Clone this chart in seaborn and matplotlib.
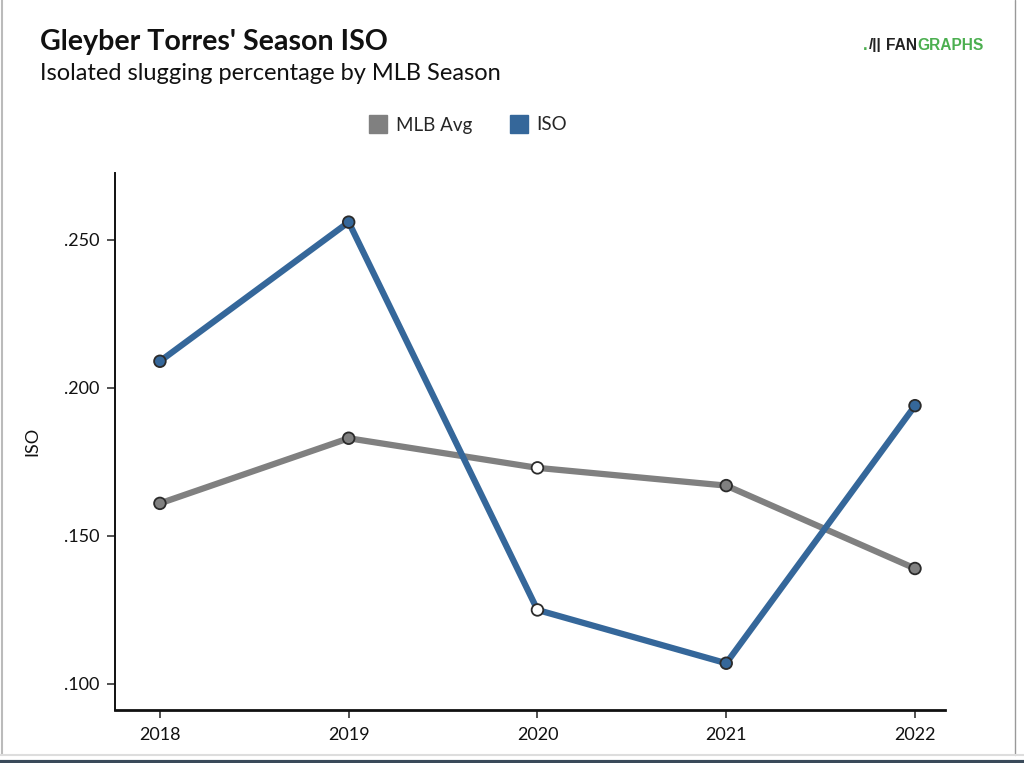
import matplotlib
matplotlib.use("Agg")
import matplotlib.pyplot as plt
from matplotlib.lines import Line2D
import seaborn as sns
import pandas as pd

seasons = [2018, 2019, 2020, 2021, 2022]
iso = [0.209, 0.256, 0.125, 0.107, 0.194]
mlb_avg = [0.161, 0.183, 0.173, 0.167, 0.139]
highlight_season = 2020
y_ticks = [0.100, 0.150, 0.200, 0.250]
y_tick_labels = [".100", ".150", ".200", ".250"]

GRAY = "#808080"
BLUE = "#35679a"
EDGE = "#2b2b2b"

sns.set_theme(style="white")
plt.rcParams["font.family"] = ["Lato", "DejaVu Sans"]

df = pd.concat([
    pd.DataFrame({"Season": seasons, "value": mlb_avg, "series": "MLB Avg"}),
    pd.DataFrame({"Season": seasons, "value": iso, "series": "ISO"}),
], ignore_index=True)
df["face"] = df["series"].where(df["Season"] != highlight_season, "hl")

fig = plt.figure(figsize=(10.24, 7.63), dpi=100)
fig.patch.set_facecolor("white")
ax = fig.add_axes([115/1024, 1-710/763, (945-115)/1024, (710-173)/763])

sns.lineplot(data=df, x="Season", y="value", hue="series",
             palette={"MLB Avg": GRAY, "ISO": BLUE}, linewidth=4.5,
             ax=ax, legend=False, zorder=2)
sns.scatterplot(data=df, x="Season", y="value", hue="face",
                palette={"MLB Avg": GRAY, "ISO": BLUE, "hl": "white"},
                s=70, edgecolor=EDGE, linewidth=1.3, ax=ax, legend=False, zorder=3)

ax.set_xlim(2017.762, 2022.159)
ax.set_ylim(0.0912, 0.2726)
ax.set_xticks(seasons)
ax.set_xticklabels([str(s) for s in seasons])
ax.set_yticks(y_ticks)
ax.set_yticklabels(y_tick_labels)
ax.set_xlabel("")
ax.set_ylabel("ISO", fontsize=13, color="#111111", labelpad=17)
ax.tick_params(axis="both", direction="out", length=6, width=1.1, color="#222222",
               labelsize=13, labelcolor="#111111", left=True, bottom=True)
ax.tick_params(axis="x", pad=6)
ax.tick_params(axis="y", pad=5)
for side in ["top", "right"]:
    ax.spines[side].set_visible(False)
ax.spines["left"].set_color("#111111")
ax.spines["left"].set_linewidth(1.4)
ax.spines["bottom"].set_color("#111111")
ax.spines["bottom"].set_linewidth(2.0)
ax.set_facecolor("white")

# Titles
fig.text(40/1024, 1-42/763, "Gleyber Torres' Season ISO", fontsize=20.6, fontweight="bold",
         color="#111111", ha="left", va="center")
fig.text(40/1024, 1-73/763, "Isolated slugging percentage by MLB Season", fontsize=17,
         color="#111111", ha="left", va="center")

# Legend
handles = [Line2D([0], [0], marker="s", linestyle="none", markersize=13,
                  markerfacecolor=GRAY, markeredgecolor=GRAY),
           Line2D([0], [0], marker="s", linestyle="none", markersize=13,
                  markerfacecolor=BLUE, markeredgecolor=BLUE)]
fig.legend(handles, ["MLB Avg", "ISO"], loc="center", bbox_to_anchor=(468/1024, 1-125/763),
           ncol=2, frameon=False, fontsize=13.5, handletextpad=0.45, columnspacing=2.0,
           handlelength=1.0)

# Logo
fig.text(863/1024, 1-45/763, ".", fontsize=12, fontweight="bold", color="#4caf50",
         ha="left", va="center", family="Liberation Sans")
fig.text(869/1024, 1-45/763, "/||", fontsize=11, fontweight="bold", color="#222222",
         ha="left", va="center", family="Liberation Sans")
fan = fig.text(886/1024, 1-45/763, "FAN", fontsize=11.2, fontweight="bold", color="#222222",
               ha="left", va="center", family="Liberation Sans")
fig.canvas.draw()
bb = fan.get_window_extent(renderer=fig.canvas.get_renderer())
fig.text(bb.x1/fig.bbox.width, 1-45/763, "GRAPHS", fontsize=11.2, fontweight="bold",
         color="#4caf50", ha="left", va="center", family="Liberation Sans")

# Screenshot frame
fig.add_artist(Line2D([2/1024, 2/1024], [1-755/763, 1], transform=fig.transFigure,
                      color="#bbbbbb", linewidth=1.5))
fig.add_artist(Line2D([1015/1024, 1015/1024], [1-755/763, 1], transform=fig.transFigure,
                      color="#999999", linewidth=1.0))
fig.add_artist(Line2D([0, 1], [1-755/763, 1-755/763], transform=fig.transFigure,
                      color="#dddddd", linewidth=1.5))
fig.add_artist(Line2D([0, 1], [1-762/763, 1-762/763], transform=fig.transFigure,
                      color="#3a4a5a", linewidth=3))

fig.savefig("out.png", dpi=100)
